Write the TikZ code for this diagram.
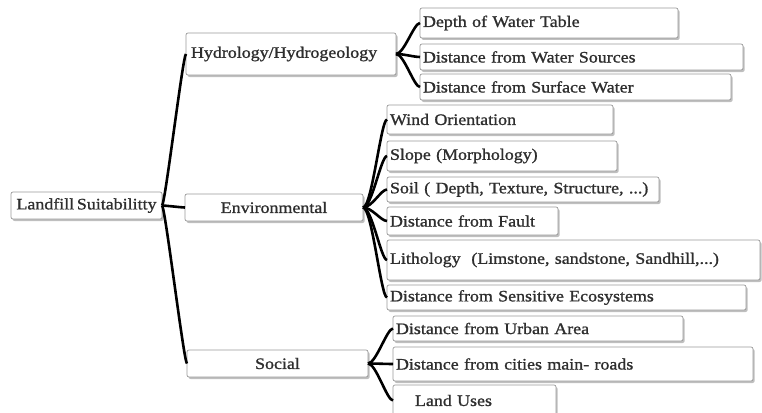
\documentclass[tikz,border=0pt]{standalone}
\usepackage{fontspec}
\setmainfont{Liberation Serif}[FakeStretch=1.12,FakeBold=1.1,WordSpace=0.6]
\usetikzlibrary{shadows}
\begin{document}
\begin{tikzpicture}[x=1pt,y=-1pt,
  box/.style={draw=black!40, line width=0.7pt, fill=white, rounded corners=2pt,
    drop shadow={shadow xshift=1.6pt, shadow yshift=-2pt, fill=black!55, opacity=0.45},
    font=\fontsize{16}{18}\selectfont, text=black!82, inner ysep=0pt, outer sep=0pt,
    anchor=north west},
  cbox/.style={box, inner xsep=0pt, align=center},
  lbox/.style={box, inner xsep=3pt, align=left},
  conn/.style={line width=2.6pt, black}]
\useasboundingbox (0,0) rectangle (762,412);
\clip (0,0) rectangle (762,412);
\fill[white] (0,0) rectangle (762,412);

% main nodes
\node[cbox, minimum width=151pt, minimum height=27pt] (root) at (11,192) {Landfill Suitabilitty};
\node[box, inner xsep=5pt, align=left, text width=200pt, minimum height=42pt] (hydro) at (186,33) {Hydrology/Hydrogeology};
\node[cbox, minimum width=178pt, minimum height=27pt] (env) at (185,194) {Environmental};
\node[cbox, minimum width=181pt, minimum height=27pt] (soc) at (187,350) {Social};

% hydrology leaves
\node[lbox, text width=252pt, minimum height=30pt] (d1) at (420,8) {Depth of Water Table};
\node[lbox, text width=317pt, minimum height=26pt] (d2) at (420,44) {Distance from Water Sources};
\node[lbox, text width=305pt, minimum height=26pt] (d3) at (420,74) {Distance from Surface Water};

% environmental leaves
\node[lbox, text width=220pt, minimum height=29pt] (e1) at (387,105) {Wind Orientation};
\node[lbox, text width=224pt, minimum height=30pt] (e2) at (387,141) {Slope (Morphology)};
\node[lbox, text width=266pt, minimum height=25pt] (e3) at (387,177) {Soil ( Depth, Texture, Structure, ...)};
\node[lbox, text width=165pt, minimum height=28pt] (e4) at (387,207) {Distance from Fault};
\node[lbox, text width=367pt, minimum height=40pt] (e5) at (387,240) {Lithology\ \ (Limstone, sandstone, Sandhill,...)};
\node[lbox, text width=353pt, minimum height=25pt] (e6) at (387,285) {Distance from Sensitive Ecosystems};

% social leaves
\node[lbox, text width=284pt, minimum height=25pt] (s1) at (393,316) {Distance from Urban Area};
\node[lbox, text width=354pt, minimum height=34pt] (s2) at (393,347) {Distance from cities main- roads};
\node[box, inner xsep=22pt, align=left, text width=119pt, minimum height=31pt] (s3) at (393,385) {Land Uses};

% connectors
\foreach \c in {hydro,env,soc}
  \draw[conn] (root.east) .. controls +(3,0) and +(-3,0) .. (\c.west);
\foreach \c in {d1,d2,d3}
  \draw[conn] (hydro.east) .. controls +(8,0) and +(-6,0) .. (\c.west);
\foreach \c in {e1,e2,e3,e4,e5,e6}
  \draw[conn] (env.east) .. controls +(9,0) and +(-6,0) .. (\c.west);
\foreach \c in {s1,s2,s3}
  \draw[conn] (soc.east) .. controls +(8,0) and +(-6,0) .. (\c.west);
\end{tikzpicture}
\end{document}
